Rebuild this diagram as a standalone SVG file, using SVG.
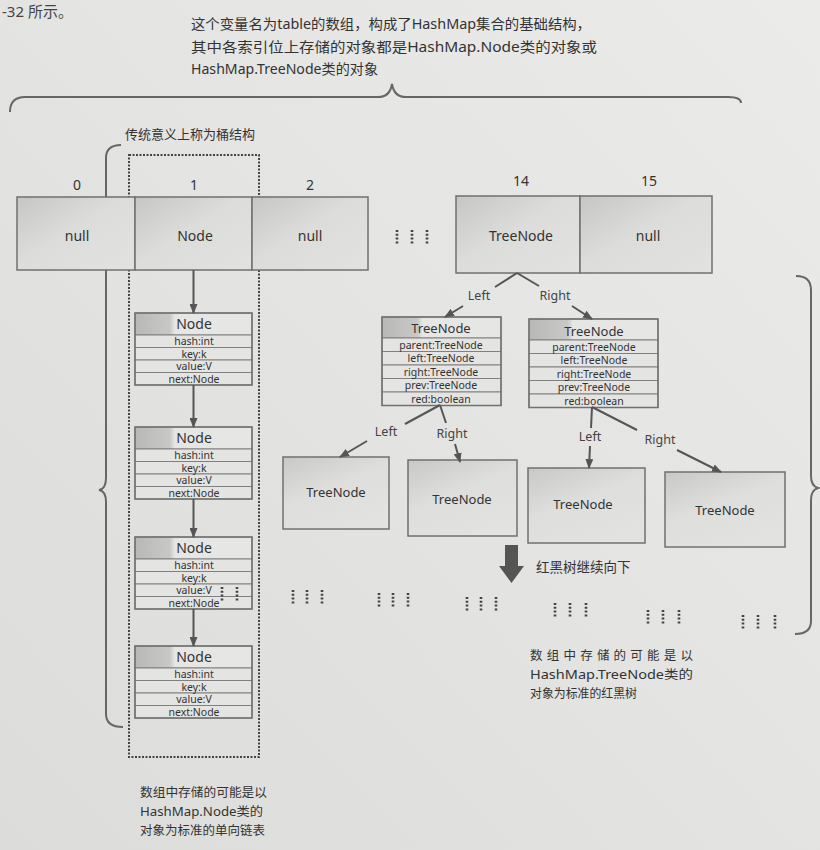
<svg xmlns="http://www.w3.org/2000/svg" width="820" height="850" viewBox="0 0 820 850">
<defs>
<style>
text{font-family:"Noto Sans","Noto Sans CJK SC",sans-serif;fill:#333}
.cell{stroke:#707070;stroke-width:1.5;fill:url(#cellg)}
.box{stroke:#707070;stroke-width:1.5;fill:url(#boxg)}
.row{stroke:#808080;stroke-width:1;fill:#e4e4e2}
.hdr{stroke:#808080;stroke-width:1;fill:url(#hdrg)}
.lbl{font-size:14px;text-anchor:middle}
.fld{font-size:10.5px;text-anchor:middle;fill:#333}
.nh{font-size:14px;text-anchor:middle}
.th{font-size:13px;text-anchor:middle}
.el{font-size:12.5px;text-anchor:middle;fill:#444}
.con{stroke:#555;stroke-width:2;fill:none}
.brace{stroke:#666;stroke-width:2;fill:none}
.dots{stroke:#444;stroke-width:2.6;stroke-dasharray:2 1.8;fill:none}
.note{font-size:12.5px}
</style>
<linearGradient id="bgg" x1="0" y1="1" x2="1" y2="0">
<stop offset="0" stop-color="#dcdcda"/><stop offset="1" stop-color="#ebebea"/>
</linearGradient>
<linearGradient id="cellg" x1="0" y1="0" x2="1" y2="1">
<stop offset="0" stop-color="#c6c6c4"/><stop offset="0.45" stop-color="#dcdcda"/><stop offset="1" stop-color="#e2e2e0"/>
</linearGradient>
<linearGradient id="boxg" x1="0" y1="0" x2="0.6" y2="1">
<stop offset="0" stop-color="#c8c8c6"/><stop offset="0.5" stop-color="#dededc"/><stop offset="1" stop-color="#e2e2e0"/>
</linearGradient>
<linearGradient id="hdrg" x1="0" y1="0" x2="1" y2="0">
<stop offset="0" stop-color="#b8b8b6"/><stop offset="0.3" stop-color="#c8c8c6"/><stop offset="0.34" stop-color="#e6e6e4"/><stop offset="1" stop-color="#e6e6e4"/>
</linearGradient>
<marker id="ah" markerWidth="10" markerHeight="8" refX="9" refY="4" orient="auto" markerUnits="userSpaceOnUse">
<path d="M0,0 L10,4 L0,8 Z" fill="#555"/>
</marker>
</defs>

<rect x="0" y="0" width="820" height="850" fill="url(#bgg)"/>

<text x="2" y="17" style="font-size:15px;fill:#444">-32 所示。</text>

<g id="top-note">
<text x="191" y="29" textLength="400" lengthAdjust="spacingAndGlyphs" style="font-size:14px">这个变量名为table的数组，构成了HashMap集合的基础结构，</text>
<text x="191" y="51.5" textLength="406" lengthAdjust="spacingAndGlyphs" style="font-size:14px">其中各索引位上存储的对象都是HashMap.Node类的对象或</text>
<text x="191" y="74" textLength="187" lengthAdjust="spacingAndGlyphs" style="font-size:14px">HashMap.TreeNode类的对象</text>
</g>

<g id="braces">
<path class="brace" d="M10 112 Q10 97 25 97 L378 97 Q390 97 392 84 Q394 97 406 97 L728 97 Q741 97 741 103"/>
<path class="brace" d="M121 145 Q106 145 106 158 L106 478 Q106 489 99 490 Q106 491 106 502 L106 714 Q106 727 123 727"/>
<path class="brace" d="M796 276 Q811 276 811 290 L811 476 Q811 486 818 488 Q811 490 811 500 L811 621 Q811 634 795 634"/>
</g>

<g id="bucket-label">
<text x="125" y="139" style="font-size:13px">传统意义上称为桶结构</text>
</g>

<g id="bucket">
<rect x="129" y="155" width="130" height="602" fill="none" stroke="#444" stroke-width="2" stroke-dasharray="2 1.5"/>
</g>

<g id="cell-0">
<text class="lbl" x="77" y="190">0</text>
<rect class="cell" x="17" y="197" width="118" height="73"/>
<text class="lbl" x="77" y="241">null</text>
</g>
<g id="cell-1">
<text class="lbl" x="194" y="190">1</text>
<rect class="cell" x="135" y="197" width="117" height="73"/>
<text class="lbl" x="195" y="241">Node</text>
</g>
<g id="cell-2">
<text class="lbl" x="310" y="190">2</text>
<rect class="cell" x="252" y="197" width="116" height="73"/>
<text class="lbl" x="310" y="241">null</text>
</g>
<g id="cell-14">
<text class="lbl" x="521" y="186">14</text>
<rect class="cell" x="456" y="196" width="124" height="77"/>
<text class="lbl" x="521" y="241">TreeNode</text>
</g>
<g id="cell-15">
<text class="lbl" x="649" y="186">15</text>
<rect class="cell" x="580" y="196" width="132" height="77"/>
<text class="lbl" x="648" y="241">null</text>
</g>

<g id="node-1">
<rect class="hdr" x="135" y="313" width="117" height="22"/>
<rect class="row" x="135" y="335" width="117" height="12.5"/>
<rect class="row" x="135" y="347.5" width="117" height="12.5"/>
<rect class="row" x="135" y="360" width="117" height="12.5"/>
<rect class="row" x="135" y="372.5" width="117" height="12.5"/>
<rect x="135" y="313" width="117" height="72" fill="none" stroke="#707070" stroke-width="1.5"/>
<text class="nh" x="194" y="329">Node</text>
<text class="fld" x="194" y="345">hash:int</text>
<text class="fld" x="194" y="357.5">key:k</text>
<text class="fld" x="194" y="370">value:V</text>
<text class="fld" x="194" y="382.5">next:Node</text>
</g>
<g id="node-2">
<rect class="hdr" x="135" y="427" width="117" height="22"/>
<rect class="row" x="135" y="449" width="117" height="12.5"/>
<rect class="row" x="135" y="461.5" width="117" height="12.5"/>
<rect class="row" x="135" y="474" width="117" height="12.5"/>
<rect class="row" x="135" y="486.5" width="117" height="12.5"/>
<rect x="135" y="427" width="117" height="72" fill="none" stroke="#707070" stroke-width="1.5"/>
<text class="nh" x="194" y="443">Node</text>
<text class="fld" x="194" y="459">hash:int</text>
<text class="fld" x="194" y="471.5">key:k</text>
<text class="fld" x="194" y="484">value:V</text>
<text class="fld" x="194" y="496.5">next:Node</text>
</g>
<g id="node-3">
<rect class="hdr" x="135" y="537" width="117" height="22"/>
<rect class="row" x="135" y="559" width="117" height="12.5"/>
<rect class="row" x="135" y="571.5" width="117" height="12.5"/>
<rect class="row" x="135" y="584" width="117" height="12.5"/>
<rect class="row" x="135" y="596.5" width="117" height="12.5"/>
<rect x="135" y="537" width="117" height="72" fill="none" stroke="#707070" stroke-width="1.5"/>
<text class="nh" x="194" y="553">Node</text>
<text class="fld" x="194" y="569">hash:int</text>
<text class="fld" x="194" y="581.5">key:k</text>
<text class="fld" x="194" y="594">value:V</text>
<text class="fld" x="194" y="606.5">next:Node</text>
</g>
<g id="node-4">
<rect class="hdr" x="135" y="646" width="117" height="22"/>
<rect class="row" x="135" y="668" width="117" height="12.5"/>
<rect class="row" x="135" y="680.5" width="117" height="12.5"/>
<rect class="row" x="135" y="693" width="117" height="12.5"/>
<rect class="row" x="135" y="705.5" width="117" height="12.5"/>
<rect x="135" y="646" width="117" height="72" fill="none" stroke="#707070" stroke-width="1.5"/>
<text class="nh" x="194" y="662">Node</text>
<text class="fld" x="194" y="678">hash:int</text>
<text class="fld" x="194" y="690.5">key:k</text>
<text class="fld" x="194" y="703">value:V</text>
<text class="fld" x="194" y="715.5">next:Node</text>
</g>

<g id="treenode-left">
<rect class="hdr" x="382" y="317" width="119" height="21"/>
<rect class="row" x="382" y="338" width="119" height="13.5"/>
<rect class="row" x="382" y="351.5" width="119" height="13.5"/>
<rect class="row" x="382" y="365" width="119" height="13.5"/>
<rect class="row" x="382" y="378.5" width="119" height="13.5"/>
<rect class="row" x="382" y="392" width="119" height="13.5"/>
<rect x="382" y="317" width="119" height="88.5" fill="none" stroke="#707070" stroke-width="1.5"/>
<text class="th" x="441" y="333">TreeNode</text>
<text class="fld" x="441" y="348.5">parent:TreeNode</text>
<text class="fld" x="441" y="362">left:TreeNode</text>
<text class="fld" x="441" y="375.5">right:TreeNode</text>
<text class="fld" x="441" y="389">prev:TreeNode</text>
<text class="fld" x="441" y="402.5">red:boolean</text>
</g>
<g id="treenode-right">
<rect class="hdr" x="529" y="319" width="129" height="21"/>
<rect class="row" x="529" y="340" width="129" height="13.5"/>
<rect class="row" x="529" y="353.5" width="129" height="13.5"/>
<rect class="row" x="529" y="367" width="129" height="13.5"/>
<rect class="row" x="529" y="380.5" width="129" height="13.5"/>
<rect class="row" x="529" y="394" width="129" height="13.5"/>
<rect x="529" y="319" width="129" height="88.5" fill="none" stroke="#707070" stroke-width="1.5"/>
<text class="th" x="594" y="336">TreeNode</text>
<text class="fld" x="594" y="350.5">parent:TreeNode</text>
<text class="fld" x="594" y="364">left:TreeNode</text>
<text class="fld" x="594" y="377.5">right:TreeNode</text>
<text class="fld" x="594" y="391">prev:TreeNode</text>
<text class="fld" x="594" y="404.5">red:boolean</text>
</g>

<g id="leaf-a">
<rect class="box" x="283" y="457" width="106" height="72"/>
<text class="th" x="336" y="497">TreeNode</text>
</g>
<g id="leaf-b">
<rect class="box" x="408" y="460" width="109" height="76"/>
<text class="th" x="462" y="504">TreeNode</text>
</g>
<g id="leaf-c">
<rect class="box" x="528" y="468" width="117" height="75"/>
<text class="th" x="583" y="509">TreeNode</text>
</g>
<g id="leaf-d">
<rect class="box" x="665" y="472" width="120" height="75"/>
<text class="th" x="725" y="515">TreeNode</text>
</g>

<g id="connectors">
<line class="con" x1="193.5" y1="270" x2="193.5" y2="313" marker-end="url(#ah)"/>
<line class="con" x1="193.5" y1="385" x2="193.5" y2="427" marker-end="url(#ah)"/>
<line class="con" x1="193.5" y1="499" x2="193.5" y2="537" marker-end="url(#ah)"/>
<line class="con" x1="193.5" y1="609" x2="193.5" y2="646" marker-end="url(#ah)"/>

<line class="con" x1="517" y1="273" x2="495" y2="287"/>
<line class="con" x1="463" y1="306" x2="445" y2="317" marker-end="url(#ah)"/>
<text class="el" x="479" y="300">Left</text>
<line class="con" x1="517" y1="273" x2="539" y2="286"/>
<line class="con" x1="572" y1="306" x2="592" y2="319" marker-end="url(#ah)"/>
<text class="el" x="555" y="300">Right</text>

<line class="con" x1="440" y1="405" x2="405" y2="424"/>
<line class="con" x1="367" y1="441" x2="340" y2="457" marker-end="url(#ah)"/>
<text class="el" x="386" y="436">Left</text>
<line class="con" x1="440" y1="405" x2="446" y2="423"/>
<line class="con" x1="455" y1="444" x2="460" y2="462" marker-end="url(#ah)"/>
<text class="el" x="452" y="438">Right</text>

<line class="con" x1="592" y1="407" x2="591" y2="428"/>
<line class="con" x1="590" y1="446" x2="589" y2="468" marker-end="url(#ah)"/>
<text class="el" x="590" y="441">Left</text>
<line class="con" x1="592" y1="407" x2="637" y2="430"/>
<line class="con" x1="677" y1="450" x2="721" y2="472" marker-end="url(#ah)"/>
<text class="el" x="660" y="444">Right</text>
</g>

<g id="continue-arrow">
<polygon points="505,545 518,545 518,566 524,566 511.5,583 499,566 505,566" fill="#555"/>
<text x="536" y="572" style="font-size:13.5px">红黑树继续向下</text>
</g>

<g id="ellipses">
<path class="dots" d="M397 230 V244 M412 230 V244 M427 230 V244"/>
<path class="dots" d="M222 587 V601 M237 587 V601"/>
<path class="dots" d="M293 590 V604 M307 590 V604 M322 590 V604"/>
<path class="dots" d="M379 593 V607 M393 593 V607 M408 593 V607"/>
<path class="dots" d="M467 597 V611 M481 597 V611 M496 597 V611"/>
<path class="dots" d="M555 603 V617 M570 603 V617 M586 603 V617"/>
<path class="dots" d="M648 610 V624 M663 610 V624 M679 610 V624"/>
<path class="dots" d="M743 615 V629 M758 615 V629 M775 615 V629"/>
</g>

<g id="note-list">
<text class="note" x="140" y="797" textLength="127" lengthAdjust="spacingAndGlyphs">数组中存储的可能是以</text>
<text class="note" x="140" y="816" textLength="123" lengthAdjust="spacingAndGlyphs">HashMap.Node类的</text>
<text class="note" x="140" y="835" textLength="125" lengthAdjust="spacingAndGlyphs">对象为标准的单向链表</text>
</g>
<g id="note-tree">
<text class="note" x="530" y="660" textLength="163" lengthAdjust="spacing">数组中存储的可能是以</text>
<text class="note" x="530" y="679" textLength="163" lengthAdjust="spacingAndGlyphs">HashMap.TreeNode类的</text>
<text class="note" x="530" y="698" textLength="107" lengthAdjust="spacingAndGlyphs">对象为标准的红黑树</text>
</g>
</svg>
